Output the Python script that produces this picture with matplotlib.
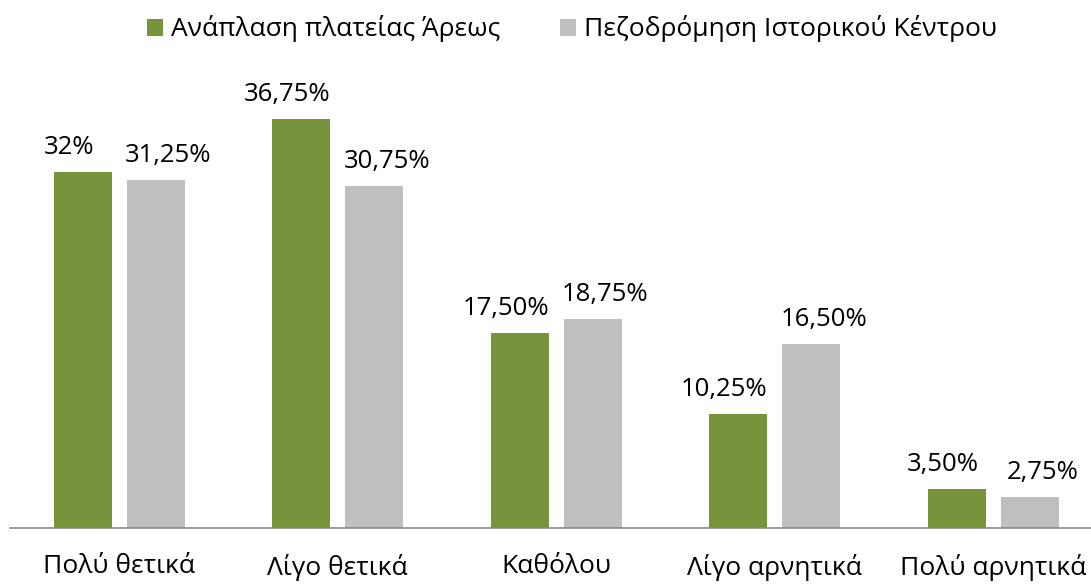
import matplotlib.pyplot as plt
import numpy as np

plt.rcParams['font.family'] = ['Open Sans', 'DejaVu Sans']

categories = ["Πολύ θετικά", "Λίγο θετικά", "Καθόλου", "Λίγο αρνητικά", "Πολύ αρνητικά"]
series_names = ["Ανάπλαση πλατείας Άρεως", "Πεζοδρόμηση Ιστορικού Κέντρου"]
areos = [32.0, 36.75, 17.50, 10.25, 3.50]
pezodromisi = [31.25, 30.75, 18.75, 16.50, 2.75]

GREEN = "#77933C"
GRAY = "#BFBFBF"


def fmt(v):
    if float(v).is_integer():
        return f"{int(v)}%"
    return f"{v:.2f}%".replace(".", ",")


fig = plt.figure(figsize=(10.91, 5.84), dpi=100)
# plot area runs slightly past the right edge, like the original export
ax = fig.add_axes([10 / 1091, 56 / 584, 1092.5 / 1091, 445 / 584])

x = np.arange(len(categories))
w = 0.265
off = 0.167
b1 = ax.bar(x - off, areos, w, color=GREEN, label=series_names[0])
b2 = ax.bar(x + off, pezodromisi, w, color=GRAY, label=series_names[1])

for bars, vals, dx in [(b1, areos, -10), (b2, pezodromisi, 9)]:
    for rect, v in zip(bars, vals):
        ax.annotate(fmt(v), (rect.get_x() + rect.get_width() / 2, rect.get_height()),
                    xytext=(dx, 13), textcoords="offset points",
                    ha="center", va="baseline", fontsize=18.5)

ax.set_xlim(-0.5, len(categories) - 0.5)
ax.set_ylim(0, 40)
ax.set_xticks(x)
ax.set_xticklabels(categories, fontsize=19)
ax.tick_params(axis="x", length=0, pad=19)
ax.set_yticks([])
for s in ["top", "right", "left"]:
    ax.spines[s].set_visible(False)
ax.spines["bottom"].set_color("#898989")
ax.spines["bottom"].set_linewidth(1.2)

fig.legend(handles=[b1, b2], loc="center", bbox_to_anchor=(572 / 1091, 1 - 29 / 584),
           ncol=2, frameon=False, fontsize=19, handlelength=0.6, handleheight=0.6,
           handletextpad=0.3, columnspacing=2.3)

fig.savefig("out.png", dpi=100)
